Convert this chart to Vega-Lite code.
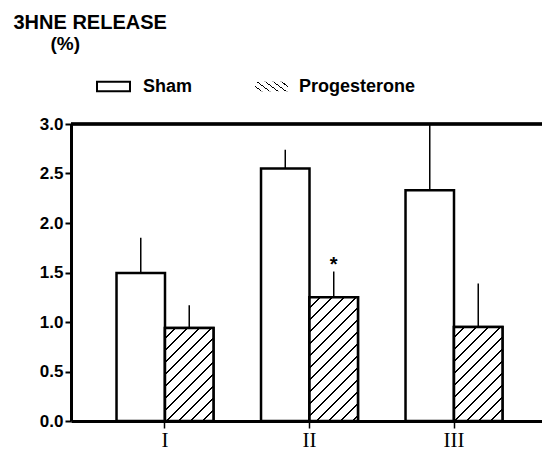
{
  "$schema": "https://vega.github.io/schema/vega-lite/v6.json",
  "width": 477,
  "height": 297,
  "autosize": {"type": "none"},
  "padding": {"left": 71, "top": 124, "right": 0, "bottom": 34},
  "background": "white",
  "config": {"view": {"stroke": null}, "font": "Liberation Sans"},
  "data": {
    "values": [
      {"group": "I", "treatment": "Sham", "value": 1.495, "hi": 1.85},
      {"group": "I", "treatment": "Progesterone", "value": 0.94, "hi": 1.17},
      {"group": "II", "treatment": "Sham", "value": 2.55, "hi": 2.74},
      {"group": "II", "treatment": "Progesterone", "value": 1.25, "hi": 1.51, "sig": "*"},
      {"group": "III", "treatment": "Sham", "value": 2.33, "hi": 3.0},
      {"group": "III", "treatment": "Progesterone", "value": 0.95, "hi": 1.39}
    ]
  },
  "layer": [
    {
      "mark": {"type": "bar", "stroke": "black", "strokeWidth": 2.5},
      "encoding": {
        "x": {
          "field": "group", "type": "nominal", "sort": ["I", "II", "III"],
          "scale": {"domain": ["I", "II", "III"], "paddingInner": 0.329, "paddingOuter": 0.315},
          "axis": {"labelAngle": 0, "labelFont": "Liberation Serif", "labelFontSize": 21, "labelColor": "black", "tickSize": 7, "tickWidth": 1.5, "tickColor": "black", "domainWidth": 3, "domainColor": "black", "labelPadding": 1,
            "title": "(%)", "titleX": -21, "titleY": -372, "titleAlign": "left", "titleBaseline": "alphabetic", "titleAngle": 0,
            "titleFontSize": 19, "titleFontWeight": "bold", "titleColor": "black", "titleFont": "Liberation Sans"}
        },
        "xOffset": {"field": "treatment", "type": "nominal", "scale": {"domain": ["Sham", "Progesterone"], "paddingInner": 0, "paddingOuter": 0}},
        "y": {
          "field": "value", "type": "quantitative",
          "scale": {"domain": [0, 3], "nice": false},
          "axis": {
            "values": [0, 0.5, 1, 1.5, 2, 2.5, 3], "format": ".1f", "grid": false,
            "labelFontSize": 17, "labelFontWeight": "bold", "labelColor": "black", "labelPadding": 2,
            "tickSize": 6, "tickWidth": 2, "tickColor": "black", "domainWidth": 3, "domainColor": "black",
            "title": "3HNE RELEASE",
            "titleAngle": 0, "titleX": -58, "titleY": -96, "titleAlign": "left", "titleBaseline": "alphabetic",
            "titleFontSize": 20, "titleFontWeight": "bold", "titleColor": "black"
          }
        },
        "fill": {
          "field": "treatment", "type": "nominal",
          "scale": {"domain": ["Sham", "Progesterone"], "range": ["white", "white"]},
          "legend": {
            "orient": "none", "legendX": 31, "legendY": -49, "direction": "horizontal", "title": null, "values": ["Sham"],
            "symbolType": "M-1.6,-0.45H1.6V0.45H-1.6Z", "symbolSize": 425,
            "symbolStrokeColor": "black", "symbolStrokeWidth": 2, "symbolOpacity": 1,
            "labelFontSize": 18, "labelFont": "Liberation Sans", "labelFontWeight": "bold", "labelColor": "black",
            "labelOffset": 18, "padding": 0,
            "encode": {"symbols": {"update": {
              "stroke": {"value": "black"},
              "strokeWidth": {"value": 2},
              "opacity": {"value": 1},
              "fill": {"value": "white"}
            }}}
          }
        }
      }
    },
    {
      "transform": [
        {"filter": "datum.treatment == 'Progesterone' && datum.group == 'I'"},
        {"calculate": "datum.treatment", "as": "hatched"}
      ],
      "mark": {"type": "bar", "stroke": "black", "strokeWidth": 2.5, "fill": {"gradient": "linear", "x1": 0, "y1": 0, "x2": 0.6338, "y2": 1.2166, "stops": [
        {"offset": 0, "color": "#fff"},
        {"offset": 0.0683, "color": "#fff"}, {"offset": 0.0683, "color": "#000"}, {"offset": 0.0833, "color": "#000"}, {"offset": 0.0833, "color": "#fff"},
        {"offset": 0.1517, "color": "#fff"}, {"offset": 0.1517, "color": "#000"}, {"offset": 0.1667, "color": "#000"}, {"offset": 0.1667, "color": "#fff"},
        {"offset": 0.235, "color": "#fff"}, {"offset": 0.235, "color": "#000"}, {"offset": 0.25, "color": "#000"}, {"offset": 0.25, "color": "#fff"},
        {"offset": 0.3183, "color": "#fff"}, {"offset": 0.3183, "color": "#000"}, {"offset": 0.3333, "color": "#000"}, {"offset": 0.3333, "color": "#fff"},
        {"offset": 0.4017, "color": "#fff"}, {"offset": 0.4017, "color": "#000"}, {"offset": 0.4167, "color": "#000"}, {"offset": 0.4167, "color": "#fff"},
        {"offset": 0.485, "color": "#fff"}, {"offset": 0.485, "color": "#000"}, {"offset": 0.5, "color": "#000"}, {"offset": 0.5, "color": "#fff"},
        {"offset": 0.5683, "color": "#fff"}, {"offset": 0.5683, "color": "#000"}, {"offset": 0.5833, "color": "#000"}, {"offset": 0.5833, "color": "#fff"},
        {"offset": 0.6517, "color": "#fff"}, {"offset": 0.6517, "color": "#000"}, {"offset": 0.6667, "color": "#000"}, {"offset": 0.6667, "color": "#fff"},
        {"offset": 0.735, "color": "#fff"}, {"offset": 0.735, "color": "#000"}, {"offset": 0.75, "color": "#000"}, {"offset": 0.75, "color": "#fff"},
        {"offset": 0.8183, "color": "#fff"}, {"offset": 0.8183, "color": "#000"}, {"offset": 0.8333, "color": "#000"}, {"offset": 0.8333, "color": "#fff"},
        {"offset": 0.9017, "color": "#fff"}, {"offset": 0.9017, "color": "#000"}, {"offset": 0.9167, "color": "#000"}, {"offset": 0.9167, "color": "#fff"},
        {"offset": 0.985, "color": "#fff"}, {"offset": 0.985, "color": "#000"}, {"offset": 1, "color": "#000"}
      ]}},
      "encoding": {
        "x": {"field": "group", "type": "nominal", "sort": ["I", "II", "III"], "scale": {"domain": ["I", "II", "III"]}},
        "xOffset": {"field": "treatment", "type": "nominal", "scale": {"domain": ["Sham", "Progesterone"]}},
        "y": {"field": "value", "type": "quantitative"},
        "opacity": {
          "field": "hatched", "type": "nominal",
          "scale": {"domain": ["Progesterone"], "range": [1]},
          "legend": {
            "orient": "none", "legendX": 189, "legendY": -49, "direction": "horizontal", "title": null,
            "symbolType": "M-1.6,-0.45H1.6V0.45H-1.6Z M-1.6,-0.31L-1.46,-0.45 M-1.6,0.13L-1.02,-0.45 M-1.48,0.45L-0.58,-0.45 M-1.04,0.45L-0.14,-0.45 M-0.6,0.45L0.3,-0.45 M-0.16,0.45L0.74,-0.45 M0.28,0.45L1.18,-0.45 M0.72,0.45L1.6,-0.43 M1.16,0.45L1.6,0.01",
            "symbolSize": 425,
            "symbolStrokeColor": "black", "symbolStrokeWidth": 2, "symbolFillColor": "white", "symbolOpacity": 1,
            "labelFontSize": 18, "labelFont": "Liberation Sans", "labelFontWeight": "bold", "labelColor": "black",
            "labelOffset": 16, "padding": 0,
            "encode": {"symbols": {"update": {
              "stroke": {"value": "black"},
              "strokeWidth": {"value": 2},
              "opacity": {"value": 1},
              "fill": {"value": "white"}
            }}}
          }
        }
      }
    },
    {
      "transform": [
        {"filter": "datum.treatment == 'Progesterone' && datum.group == 'II'"},
        {"calculate": "datum.treatment", "as": "hatched"}
      ],
      "mark": {"type": "bar", "stroke": "black", "strokeWidth": 2.5, "fill": {"gradient": "linear", "x1": 0, "y1": 0, "x2": 0.4942, "y2": 1.2609, "stops": [
        {"offset": 0, "color": "#fff"},
        {"offset": 0.0547, "color": "#fff"}, {"offset": 0.0547, "color": "#000"}, {"offset": 0.0667, "color": "#000"}, {"offset": 0.0667, "color": "#fff"},
        {"offset": 0.1213, "color": "#fff"}, {"offset": 0.1213, "color": "#000"}, {"offset": 0.1333, "color": "#000"}, {"offset": 0.1333, "color": "#fff"},
        {"offset": 0.188, "color": "#fff"}, {"offset": 0.188, "color": "#000"}, {"offset": 0.2, "color": "#000"}, {"offset": 0.2, "color": "#fff"},
        {"offset": 0.2547, "color": "#fff"}, {"offset": 0.2547, "color": "#000"}, {"offset": 0.2667, "color": "#000"}, {"offset": 0.2667, "color": "#fff"},
        {"offset": 0.3213, "color": "#fff"}, {"offset": 0.3213, "color": "#000"}, {"offset": 0.3333, "color": "#000"}, {"offset": 0.3333, "color": "#fff"},
        {"offset": 0.388, "color": "#fff"}, {"offset": 0.388, "color": "#000"}, {"offset": 0.4, "color": "#000"}, {"offset": 0.4, "color": "#fff"},
        {"offset": 0.4547, "color": "#fff"}, {"offset": 0.4547, "color": "#000"}, {"offset": 0.4667, "color": "#000"}, {"offset": 0.4667, "color": "#fff"},
        {"offset": 0.5213, "color": "#fff"}, {"offset": 0.5213, "color": "#000"}, {"offset": 0.5333, "color": "#000"}, {"offset": 0.5333, "color": "#fff"},
        {"offset": 0.588, "color": "#fff"}, {"offset": 0.588, "color": "#000"}, {"offset": 0.6, "color": "#000"}, {"offset": 0.6, "color": "#fff"},
        {"offset": 0.6547, "color": "#fff"}, {"offset": 0.6547, "color": "#000"}, {"offset": 0.6667, "color": "#000"}, {"offset": 0.6667, "color": "#fff"},
        {"offset": 0.7213, "color": "#fff"}, {"offset": 0.7213, "color": "#000"}, {"offset": 0.7333, "color": "#000"}, {"offset": 0.7333, "color": "#fff"},
        {"offset": 0.788, "color": "#fff"}, {"offset": 0.788, "color": "#000"}, {"offset": 0.8, "color": "#000"}, {"offset": 0.8, "color": "#fff"},
        {"offset": 0.8547, "color": "#fff"}, {"offset": 0.8547, "color": "#000"}, {"offset": 0.8667, "color": "#000"}, {"offset": 0.8667, "color": "#fff"},
        {"offset": 0.9213, "color": "#fff"}, {"offset": 0.9213, "color": "#000"}, {"offset": 0.9333, "color": "#000"}, {"offset": 0.9333, "color": "#fff"},
        {"offset": 0.988, "color": "#fff"}, {"offset": 0.988, "color": "#000"}, {"offset": 1, "color": "#000"}
      ]}},
      "encoding": {
        "x": {"field": "group", "type": "nominal", "sort": ["I", "II", "III"], "scale": {"domain": ["I", "II", "III"]}},
        "xOffset": {"field": "treatment", "type": "nominal", "scale": {"domain": ["Sham", "Progesterone"]}},
        "y": {"field": "value", "type": "quantitative"},
        "opacity": {"field": "hatched", "type": "nominal", "scale": {"domain": ["Progesterone"], "range": [1]}}
      }
    },
    {
      "transform": [
        {"filter": "datum.treatment == 'Progesterone' && datum.group == 'III'"},
        {"calculate": "datum.treatment", "as": "hatched"}
      ],
      "mark": {"type": "bar", "stroke": "black", "strokeWidth": 2.5, "fill": {"gradient": "linear", "x1": 0, "y1": 0, "x2": 0.6238, "y2": 1.2096, "stops": [
        {"offset": 0, "color": "#fff"},
        {"offset": 0.0683, "color": "#fff"}, {"offset": 0.0683, "color": "#000"}, {"offset": 0.0833, "color": "#000"}, {"offset": 0.0833, "color": "#fff"},
        {"offset": 0.1517, "color": "#fff"}, {"offset": 0.1517, "color": "#000"}, {"offset": 0.1667, "color": "#000"}, {"offset": 0.1667, "color": "#fff"},
        {"offset": 0.235, "color": "#fff"}, {"offset": 0.235, "color": "#000"}, {"offset": 0.25, "color": "#000"}, {"offset": 0.25, "color": "#fff"},
        {"offset": 0.3183, "color": "#fff"}, {"offset": 0.3183, "color": "#000"}, {"offset": 0.3333, "color": "#000"}, {"offset": 0.3333, "color": "#fff"},
        {"offset": 0.4017, "color": "#fff"}, {"offset": 0.4017, "color": "#000"}, {"offset": 0.4167, "color": "#000"}, {"offset": 0.4167, "color": "#fff"},
        {"offset": 0.485, "color": "#fff"}, {"offset": 0.485, "color": "#000"}, {"offset": 0.5, "color": "#000"}, {"offset": 0.5, "color": "#fff"},
        {"offset": 0.5683, "color": "#fff"}, {"offset": 0.5683, "color": "#000"}, {"offset": 0.5833, "color": "#000"}, {"offset": 0.5833, "color": "#fff"},
        {"offset": 0.6517, "color": "#fff"}, {"offset": 0.6517, "color": "#000"}, {"offset": 0.6667, "color": "#000"}, {"offset": 0.6667, "color": "#fff"},
        {"offset": 0.735, "color": "#fff"}, {"offset": 0.735, "color": "#000"}, {"offset": 0.75, "color": "#000"}, {"offset": 0.75, "color": "#fff"},
        {"offset": 0.8183, "color": "#fff"}, {"offset": 0.8183, "color": "#000"}, {"offset": 0.8333, "color": "#000"}, {"offset": 0.8333, "color": "#fff"},
        {"offset": 0.9017, "color": "#fff"}, {"offset": 0.9017, "color": "#000"}, {"offset": 0.9167, "color": "#000"}, {"offset": 0.9167, "color": "#fff"},
        {"offset": 0.985, "color": "#fff"}, {"offset": 0.985, "color": "#000"}, {"offset": 1, "color": "#000"}
      ]}},
      "encoding": {
        "x": {"field": "group", "type": "nominal", "sort": ["I", "II", "III"], "scale": {"domain": ["I", "II", "III"]}},
        "xOffset": {"field": "treatment", "type": "nominal", "scale": {"domain": ["Sham", "Progesterone"]}},
        "y": {"field": "value", "type": "quantitative"},
        "opacity": {"field": "hatched", "type": "nominal", "scale": {"domain": ["Progesterone"], "range": [1]}}
      }
    },
    {
      "mark": {"type": "rule", "strokeWidth": 1.5, "color": "black"},
      "encoding": {
        "x": {"field": "group", "type": "nominal", "sort": ["I", "II", "III"], "scale": {"domain": ["I", "II", "III"]}},
        "xOffset": {"field": "treatment", "type": "nominal", "scale": {"domain": ["Sham", "Progesterone"]}},
        "y": {"field": "value", "type": "quantitative"},
        "y2": {"field": "hi"}
      }
    },
    {
      "transform": [{"filter": "datum.sig"}],
      "mark": {"type": "text", "fontSize": 20, "fontWeight": "bold", "baseline": "alphabetic", "dy": -1, "color": "black", "font": "Liberation Sans"},
      "encoding": {
        "x": {"field": "group", "type": "nominal", "sort": ["I", "II", "III"], "scale": {"domain": ["I", "II", "III"]}},
        "xOffset": {"field": "treatment", "type": "nominal", "scale": {"domain": ["Sham", "Progesterone"]}},
        "y": {"field": "hi", "type": "quantitative"},
        "text": {"field": "sig"}
      }
    },
    {
      "mark": {"type": "rule", "strokeWidth": 2.5, "color": "black"},
      "encoding": {"y": {"datum": 3, "type": "quantitative"}}
    }
  ]
}
